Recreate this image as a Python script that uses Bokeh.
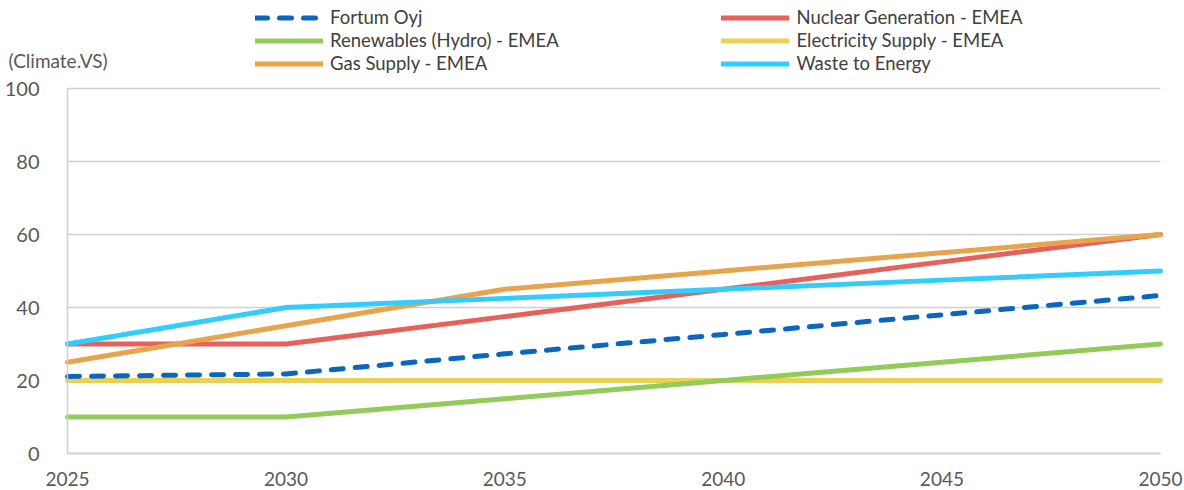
from bokeh.plotting import figure
from bokeh.models import Range1d, Legend, LegendItem, FixedTicker, Label
from bokeh.embed import file_html
from bokeh.resources import INLINE

years = [2025, 2030, 2035, 2040, 2045, 2050]
fortum = [21.1, 21.8, 27.3, 32.6, 38.0, 43.3]
nuclear = [30, 30, 37.5, 45, 52.5, 60]
renewables = [10, 10, 15, 20, 25, 30]
electricity = [20, 20, 20, 20, 20, 20]
gas = [25, 35, 45, 50, 55, 60]
waste = [30, 40, 42.5, 45, 47.5, 50]
y_ticks = [0, 20, 40, 60, 80, 100]
unit_label = "(Climate.VS)"

FONT = "Lato"
W_PX, H_PX = 1184, 490
LEFT, RIGHT, TOP, BOTTOM = 67, 24, 88, 37          # inner plot box margins (px)
px_per_x = (W_PX - LEFT - RIGHT) / (years[-1] - years[0])
px_per_y = (H_PX - TOP - BOTTOM) / (y_ticks[-1] - y_ticks[0])

x_range = Range1d(years[0] - LEFT / px_per_x, years[-1] + RIGHT / px_per_x)
y_range = Range1d(y_ticks[0] - BOTTOM / px_per_y, y_ticks[-1] + TOP / px_per_y)

p = figure(width=W_PX, height=H_PX, output_backend="svg", toolbar_location=None,
           x_range=x_range, y_range=y_range)
p.min_border_left = 0
p.min_border_right = 0
p.min_border_top = 0
p.min_border_bottom = 0
p.outline_line_color = None
p.xgrid.visible = False
p.ygrid.visible = False

for ax in (p.xaxis[0], p.yaxis[0]):
    ax.major_tick_line_color = None
    ax.minor_tick_line_color = None
    ax.major_label_text_font = FONT
    ax.major_label_text_color = "#595959"
    ax.axis_line_color = "#d0d0d0"
    ax.axis_line_width = 1.5

p.xaxis.major_label_text_font_size = "19px"
p.yaxis.major_label_text_font_size = "20px"
p.xaxis.ticker = FixedTicker(ticks=years)
p.xaxis.bounds = (years[0], years[-1])
p.xaxis.fixed_location = y_ticks[0]
p.xaxis.major_label_standoff = 12
p.yaxis.ticker = FixedTicker(ticks=y_ticks)
p.yaxis.bounds = (y_ticks[0], y_ticks[-1])
p.yaxis.fixed_location = years[0]
p.yaxis.major_label_standoff = 22

# horizontal gridlines restricted to the data span
n = len(y_ticks)
p.segment(x0=[years[0]] * n, x1=[years[-1]] * n, y0=y_ticks, y1=y_ticks,
          line_color="#d0d0d0", line_width=1.5)

W = 5
r_elec = p.line(years, electricity, line_color="#ecd052", line_width=W, line_cap="round")
r_ren = p.line(years, renewables, line_color="#92cb5a", line_width=W, line_cap="round")
r_nuc = p.line(years, nuclear, line_color="#e8605a", line_width=W, line_cap="round")
r_gas = p.line(years, gas, line_color="#e8a44c", line_width=W, line_cap="round")
r_waste = p.line(years, waste, line_color="#33ccff", line_width=W, line_cap="round")
r_fortum = p.line(years, fortum, line_color="#0a66bf", line_width=W,
                  line_dash="12 12", line_cap="round")

def make_legend(items, loc, standoff):
    lg = Legend(items=items, location=loc, orientation="vertical")
    lg.label_text_font = FONT
    lg.label_text_font_size = "18.5px"
    lg.label_text_color = "#404040"
    lg.glyph_width = 68
    lg.glyph_height = 21
    lg.label_height = 21
    lg.label_standoff = standoff
    lg.spacing = 1
    lg.padding = 0
    lg.margin = 0
    lg.border_line_alpha = 0
    lg.background_fill_alpha = 0
    return lg

leg_y = H_PX - 74
leg1 = make_legend([
    LegendItem(label="Fortum Oyj", renderers=[r_fortum]),
    LegendItem(label="Renewables (Hydro) - EMEA", renderers=[r_ren]),
    LegendItem(label="Gas Supply - EMEA", renderers=[r_gas]),
], (255, leg_y), 7)
leg2 = make_legend([
    LegendItem(label="Nuclear Generation - EMEA", renderers=[r_nuc]),
    LegendItem(label="Electricity Supply - EMEA", renderers=[r_elec]),
    LegendItem(label="Waste to Energy", renderers=[r_waste]),
], (720.5, leg_y), 8)
p.add_layout(leg1, "center")
p.add_layout(leg2, "center")

lbl = Label(x=8, y=H_PX - 60, x_units="screen", y_units="screen", text=unit_label,
            text_font=FONT, text_font_size="19px", text_color="#595959",
            text_baseline="middle")
p.add_layout(lbl)

open("out.html", "w").write(file_html(p, INLINE))
